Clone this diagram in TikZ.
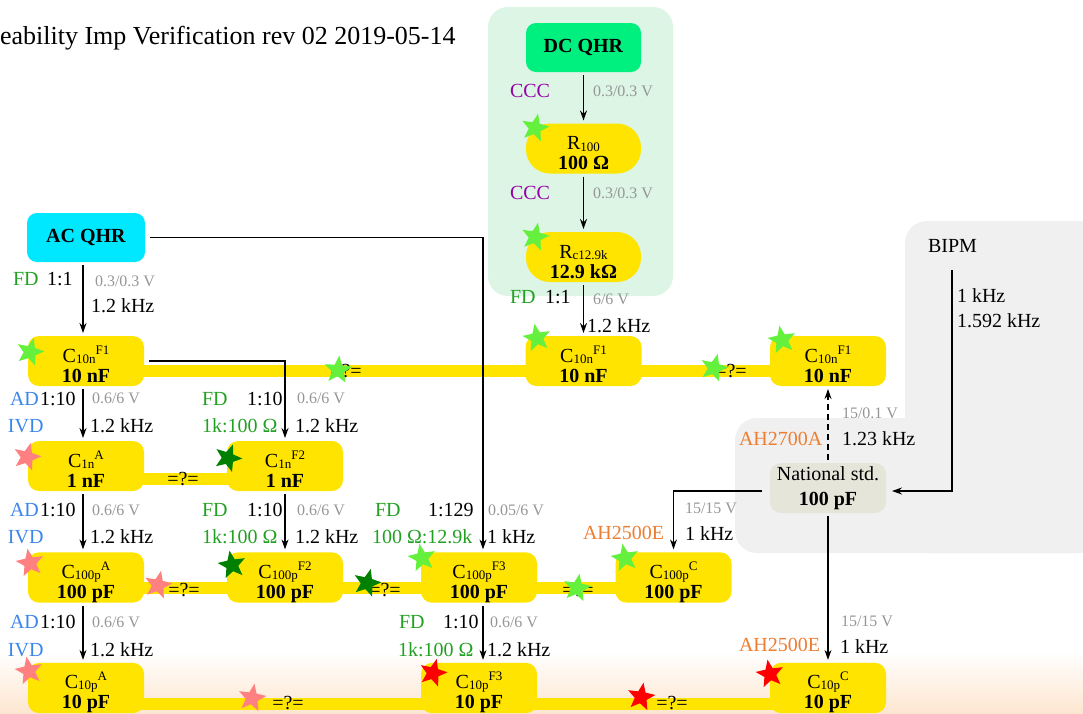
\documentclass[tikz,border=0pt]{standalone}
\usepackage{fontspec}
\setmainfont{Liberation Serif}
\usetikzlibrary{shapes.geometric,arrows.meta,calc}

\definecolor{qhrgreen}{RGB}{0,240,128}
\definecolor{qhrcyan}{RGB}{0,232,255}
\definecolor{capyellow}{RGB}{255,228,0}
\definecolor{panelgreen}{RGB}{220,245,228}
\definecolor{panelgrey}{RGB}{240,240,240}
\definecolor{stdgrey}{RGB}{229,229,218}
\definecolor{peach}{RGB}{253,230,208}
\definecolor{txtgrey}{RGB}{150,150,150}
\definecolor{fdgreen}{RGB}{34,160,34}
\definecolor{adblue}{RGB}{58,134,235}
\definecolor{cccpurple}{RGB}{150,0,170}
\definecolor{ahorange}{RGB}{237,125,49}
\definecolor{starlight}{RGB}{100,240,60}
\definecolor{stardark}{RGB}{0,128,0}
\definecolor{starpink}{RGB}{255,128,128}
\definecolor{starred}{RGB}{255,0,0}

% small index text used in the element names
\newcommand\idxfont{\fontsize{13}{13}\selectfont}
% two-line element label: name with lowered index and raised tag, value in bold
\newcommand\elemtwo[2]{\rule{0pt}{26pt}#1\\\rule[-4pt]{0pt}{4pt}\textbf{#2}}
\newcommand\Cel[2]{C\raisebox{-1pt}{\idxfont #1}\raisebox{8pt}{\idxfont #2}}
\newcommand\Rel[1]{R\raisebox{-1.5pt}{\idxfont #1}}

\begin{document}
\begin{tikzpicture}[x=1pt,y=-1pt,
  every node/.style={inner sep=0pt,outer sep=0pt},
  qbox/.style={rectangle,rounded corners=10pt,minimum width=115pt,minimum height=49pt,
    font=\fontsize{20}{20}\selectfont},
  ybox/.style={rectangle,fill=capyellow,rounded corners=11pt,minimum width=116pt,
    minimum height=48pt,align=center,font=\fontsize{20}{20}\selectfont},
  rbox/.style={ybox,rounded corners=24pt,minimum width=115pt,minimum height=49pt},
  stdbox/.style={ybox,fill=stdgrey,font=\fontsize{20}{25}\selectfont,minimum height=50pt},
  band/.style={capyellow,line width=12pt},
  eqtext/.style={font=\fontsize{20}{24}\selectfont},
  mystar/.style={star,star points=5,star point ratio=2.3,minimum size=29pt,draw=none},
  conn/.style={line width=1.1pt,-{Stealth[length=10pt,width=7pt]},shorten >=3pt,shorten <=3pt},
  lab/.style={anchor=base west,font=\fontsize{20}{24}\selectfont},
  glab/.style={anchor=base west,font=\fontsize{16}{19}\selectfont,text=txtgrey}
]
\useasboundingbox (0,0) rectangle (1083,713);

% background panels and bottom shading
\fill[panelgreen,rounded corners=20pt] (488,7) rectangle (673,296);
\fill[panelgrey,rounded corners=22pt] (905,221) rectangle (1100,553);
\fill[panelgrey,rounded corners=22pt] (735,418) rectangle (1100,553);
\shade[top color=white,bottom color=peach] (0,652) rectangle (1083,713);

% title
\node[anchor=base west,font=\fontsize{26}{30}\selectfont] (title) at (0,44)
  {eability Imp Verification rev 02 2019-05-14};

% comparison bands between capacitors of one row
\draw[band] (86,371) -- (828,371);
\draw[band] (86,479) -- (285,479);
\draw[band] (86,588) -- (673.5,588);
\draw[band] (86,704) -- (828,704);

% standards
\node[qbox,fill=qhrgreen] (dcqhr) at (583.5,47.5) {\textbf{DC QHR}};
\node[rbox] (r100) at (583.5,148.5) {\elemtwo{\Rel{100}}{100 Ω}};
\node[rbox] (rc) at (583.5,257) {\elemtwo{\Rel{c12.9k}}{12.9 kΩ}};
\node[qbox,fill=qhrcyan,minimum width=118pt] (acqhr) at (86,237.5) {\textbf{AC QHR}};

\node[ybox] (c10nA) at (86,361) {\elemtwo{\Cel{10n}{F1}}{10 nF}};
\node[ybox] (c10nB) at (583.5,361) {\elemtwo{\Cel{10n}{F1}}{10 nF}};
\node[ybox] (c10nC) at (828,361) {\elemtwo{\Cel{10n}{F1}}{10 nF}};

\node[ybox] (c1nA) at (86,466) {\elemtwo{\Cel{1n}{A}}{1 nF}};
\node[ybox] (c1nF2) at (285,466) {\elemtwo{\Cel{1n}{F2}}{1 nF}};

\node[ybox] (c100pA) at (86,577.5) {\elemtwo{\Cel{100p}{A}}{100 pF}};
\node[ybox] (c100pF2) at (285,577.5) {\elemtwo{\Cel{100p}{F2}}{100 pF}};
\node[ybox] (c100pF3) at (479,577.5) {\elemtwo{\Cel{100p}{F3}}{100 pF}};
\node[ybox] (c100pC) at (673.5,577.5) {\elemtwo{\Cel{100p}{C}}{100 pF}};

\node[ybox] (c10pA) at (86,688) {\elemtwo{\Cel{10p}{A}}{10 pF}};
\node[ybox] (c10pF3) at (479,688) {\elemtwo{\Cel{10p}{F3}}{10 pF}};
\node[ybox] (c10pC) at (828,688) {\elemtwo{\Cel{10p}{C}}{10 pF}};

\node[stdbox] (natstd) at (828,488) {National std.\\\textbf{100 pF}};

% comparison marks
\node[eqtext] (q1) at (346,371) {=?=};
\node[eqtext] (q2) at (731,371) {=?=};
\node[eqtext] (q3) at (183,479) {=?=};
\node[eqtext] (q4) at (184,590) {=?=};
\node[eqtext] (q5) at (385,590) {=?=};
\node[eqtext] (q6) at (578,590) {=?=};
\node[eqtext] (q7) at (288,703) {=?=};
\node[eqtext] (q8) at (672,703) {=?=};

% status stars
\node[mystar,fill=starlight,rotate=-12] (sr1) at (535,128) {};
\node[mystar,fill=starlight,rotate=-12] (sr2) at (535,237) {};
\node[mystar,fill=starlight,rotate=-15] (sa1) at (30,352) {};
\node[mystar,fill=starlight,rotate=10] (sb1) at (537,338) {};
\node[mystar,fill=starlight,rotate=10] (sc1) at (782,340) {};
\node[mystar,fill=starlight,rotate=-5] (sq1) at (338,370) {};
\node[mystar,fill=starlight,rotate=-15] (sq2) at (714,368) {};
\node[mystar,fill=starpink,rotate=-15] (sa2) at (27,457) {};
\node[mystar,fill=stardark,rotate=-20] (sf2) at (228,458) {};
\node[mystar,fill=starpink,rotate=10] (sa3) at (30,563) {};
\node[mystar,fill=starpink,rotate=-12] (sq4) at (158,585) {};
\node[mystar,fill=stardark,rotate=10] (sf3) at (232,565) {};
\node[mystar,fill=stardark,rotate=-15] (sq5) at (367,583) {};
\node[mystar,fill=starlight,rotate=10] (sg3) at (422,558) {};
\node[mystar,fill=starlight,rotate=-10] (sq6) at (577,588) {};
\node[mystar,fill=starlight,rotate=10] (sc3) at (625,558) {};
\node[mystar,fill=starpink,rotate=10] (sa4) at (29,671) {};
\node[mystar,fill=starpink,rotate=-10] (sq7) at (252,698) {};
\node[mystar,fill=starred,rotate=-15] (sg4) at (433,673) {};
\node[mystar,fill=starred,rotate=-10] (sq8) at (641,697) {};
\node[mystar,fill=starred,rotate=10] (sc4) at (770,674) {};

% BIPM group
\node[lab] (bipm) at (928,252) {BIPM};
\coordinate (bipmout) at (952,270);

% connectors
\draw[conn] (dcqhr) -- (r100);
\draw[conn] (r100) -- (rc);
\draw[conn] (rc) -- (c10nB);
\draw[conn] ([xshift=-3pt]acqhr.south) -- ([xshift=-3pt]c10nA.north);
\draw[conn,shorten <=5pt] (acqhr.east) -| ([xshift=4pt]c100pF3.north);
\draw[conn,shorten <=5pt] (c10nA.east) -| (c1nF2.north);
\draw[conn] ([xshift=-3pt]c10nA.south) -- ([xshift=-3pt]c1nA.north);
\draw[conn] ([xshift=-3pt]c1nA.south) -- ([xshift=-3pt]c100pA.north);
\draw[conn] ([xshift=-3pt]c100pA.south) -- ([xshift=-3pt]c10pA.north);
\draw[conn] (c1nF2) -- (c100pF2);
\draw[conn] ([xshift=4pt]c100pF3.south) -- ([xshift=4pt]c10pF3.north);
\draw[conn,shorten <=8pt] ([yshift=-3pt]natstd.west) -| (c100pC.north);
\draw[conn] (natstd) -- (c10pC);
\draw[conn,dash pattern=on 6pt off 4pt] (natstd) -- (c10nC);
\draw[conn,shorten <=0pt,shorten >=6pt] (bipmout) |- ([yshift=-3pt]natstd.east);

% DC chain labels
\node[lab,text=cccpurple] (l1) at (510,97) {CCC};
\node[glab] (l2) at (593,96) {0.3/0.3 V};
\node[lab,text=cccpurple] (l3) at (510,199) {CCC};
\node[glab] (l4) at (593,198) {0.3/0.3 V};
\node[lab,text=fdgreen] (l5) at (510,303) {FD};
\node[lab] (l6) at (545,303) {1:1};
\node[glab] (l7) at (593,304) {6/6 V};
\node[lab] (l8) at (587,332) {1.2 kHz};

% AC chain labels
\node[lab,text=fdgreen] (l9) at (13,285) {FD};
\node[lab] (l10) at (47,285) {1:1};
\node[glab] (l11) at (95,286) {0.3/0.3 V};
\node[lab] (l12) at (91,312) {1.2 kHz};

% 10 nF -> 1 nF
\node[lab,text=adblue] (l13) at (10,405) {AD};
\node[lab] (l14) at (40,405) {1:10};
\node[glab] (l15) at (92,403) {0.6/6 V};
\node[lab,text=adblue] (l16) at (8,432) {IVD};
\node[lab] (l17) at (90,432) {1.2 kHz};
\node[lab,text=fdgreen] (l18) at (202,405) {FD};
\node[lab] (l19) at (247,405) {1:10};
\node[glab] (l20) at (297,403) {0.6/6 V};
\node[lab,text=fdgreen] (l21) at (202,432) {1k:100 Ω};
\node[lab] (l22) at (295,432) {1.2 kHz};

% 1 nF -> 100 pF
\node[lab,text=adblue] (l23) at (10,516) {AD};
\node[lab] (l24) at (40,516) {1:10};
\node[glab] (l25) at (92,515) {0.6/6 V};
\node[lab,text=adblue] (l26) at (8,543) {IVD};
\node[lab] (l27) at (90,543) {1.2 kHz};
\node[lab,text=fdgreen] (l28) at (202,516) {FD};
\node[lab] (l29) at (247,516) {1:10};
\node[glab] (l30) at (297,515) {0.6/6 V};
\node[lab,text=fdgreen] (l31) at (202,543) {1k:100 Ω};
\node[lab] (l32) at (295,543) {1.2 kHz};
\node[lab,text=fdgreen] (l33) at (375,516) {FD};
\node[lab] (l34) at (428,516) {1:129};
\node[glab] (l35) at (488,515) {0.05/6 V};
\node[lab,text=fdgreen] (l36) at (372,543) {100 Ω:12.9k};
\node[lab] (l37) at (487,543) {1 kHz};
\node[lab,text=ahorange] (l38) at (583,539) {AH2500E};
\node[glab] (l39) at (685,513) {15/15 V};
\node[lab] (l40) at (685,540) {1 kHz};

% 100 pF -> 10 pF
\node[lab,text=adblue] (l41) at (10,628) {AD};
\node[lab] (l42) at (40,628) {1:10};
\node[glab] (l43) at (92,627) {0.6/6 V};
\node[lab,text=adblue] (l44) at (8,656) {IVD};
\node[lab] (l45) at (90,656) {1.2 kHz};
\node[lab,text=fdgreen] (l46) at (399,628) {FD};
\node[lab] (l47) at (443,628) {1:10};
\node[glab] (l48) at (490,627) {0.6/6 V};
\node[lab,text=fdgreen] (l49) at (398,656) {1k:100 Ω};
\node[lab] (l50) at (487,656) {1.2 kHz};
\node[lab,text=ahorange] (l51) at (739,651) {AH2500E};
\node[glab] (l52) at (841,626) {15/15 V};
\node[lab] (l53) at (840,653) {1 kHz};

% national standard links
\node[glab] (l54) at (842,418) {15/0.1 V};
\node[lab,text=ahorange] (l55) at (739,445) {AH2700A};
\node[lab] (l56) at (842,445) {1.23 kHz};
\node[lab] (l57) at (957,302) {1 kHz};
\node[lab] (l58) at (957,327) {1.592 kHz};
\end{tikzpicture}
\end{document}
